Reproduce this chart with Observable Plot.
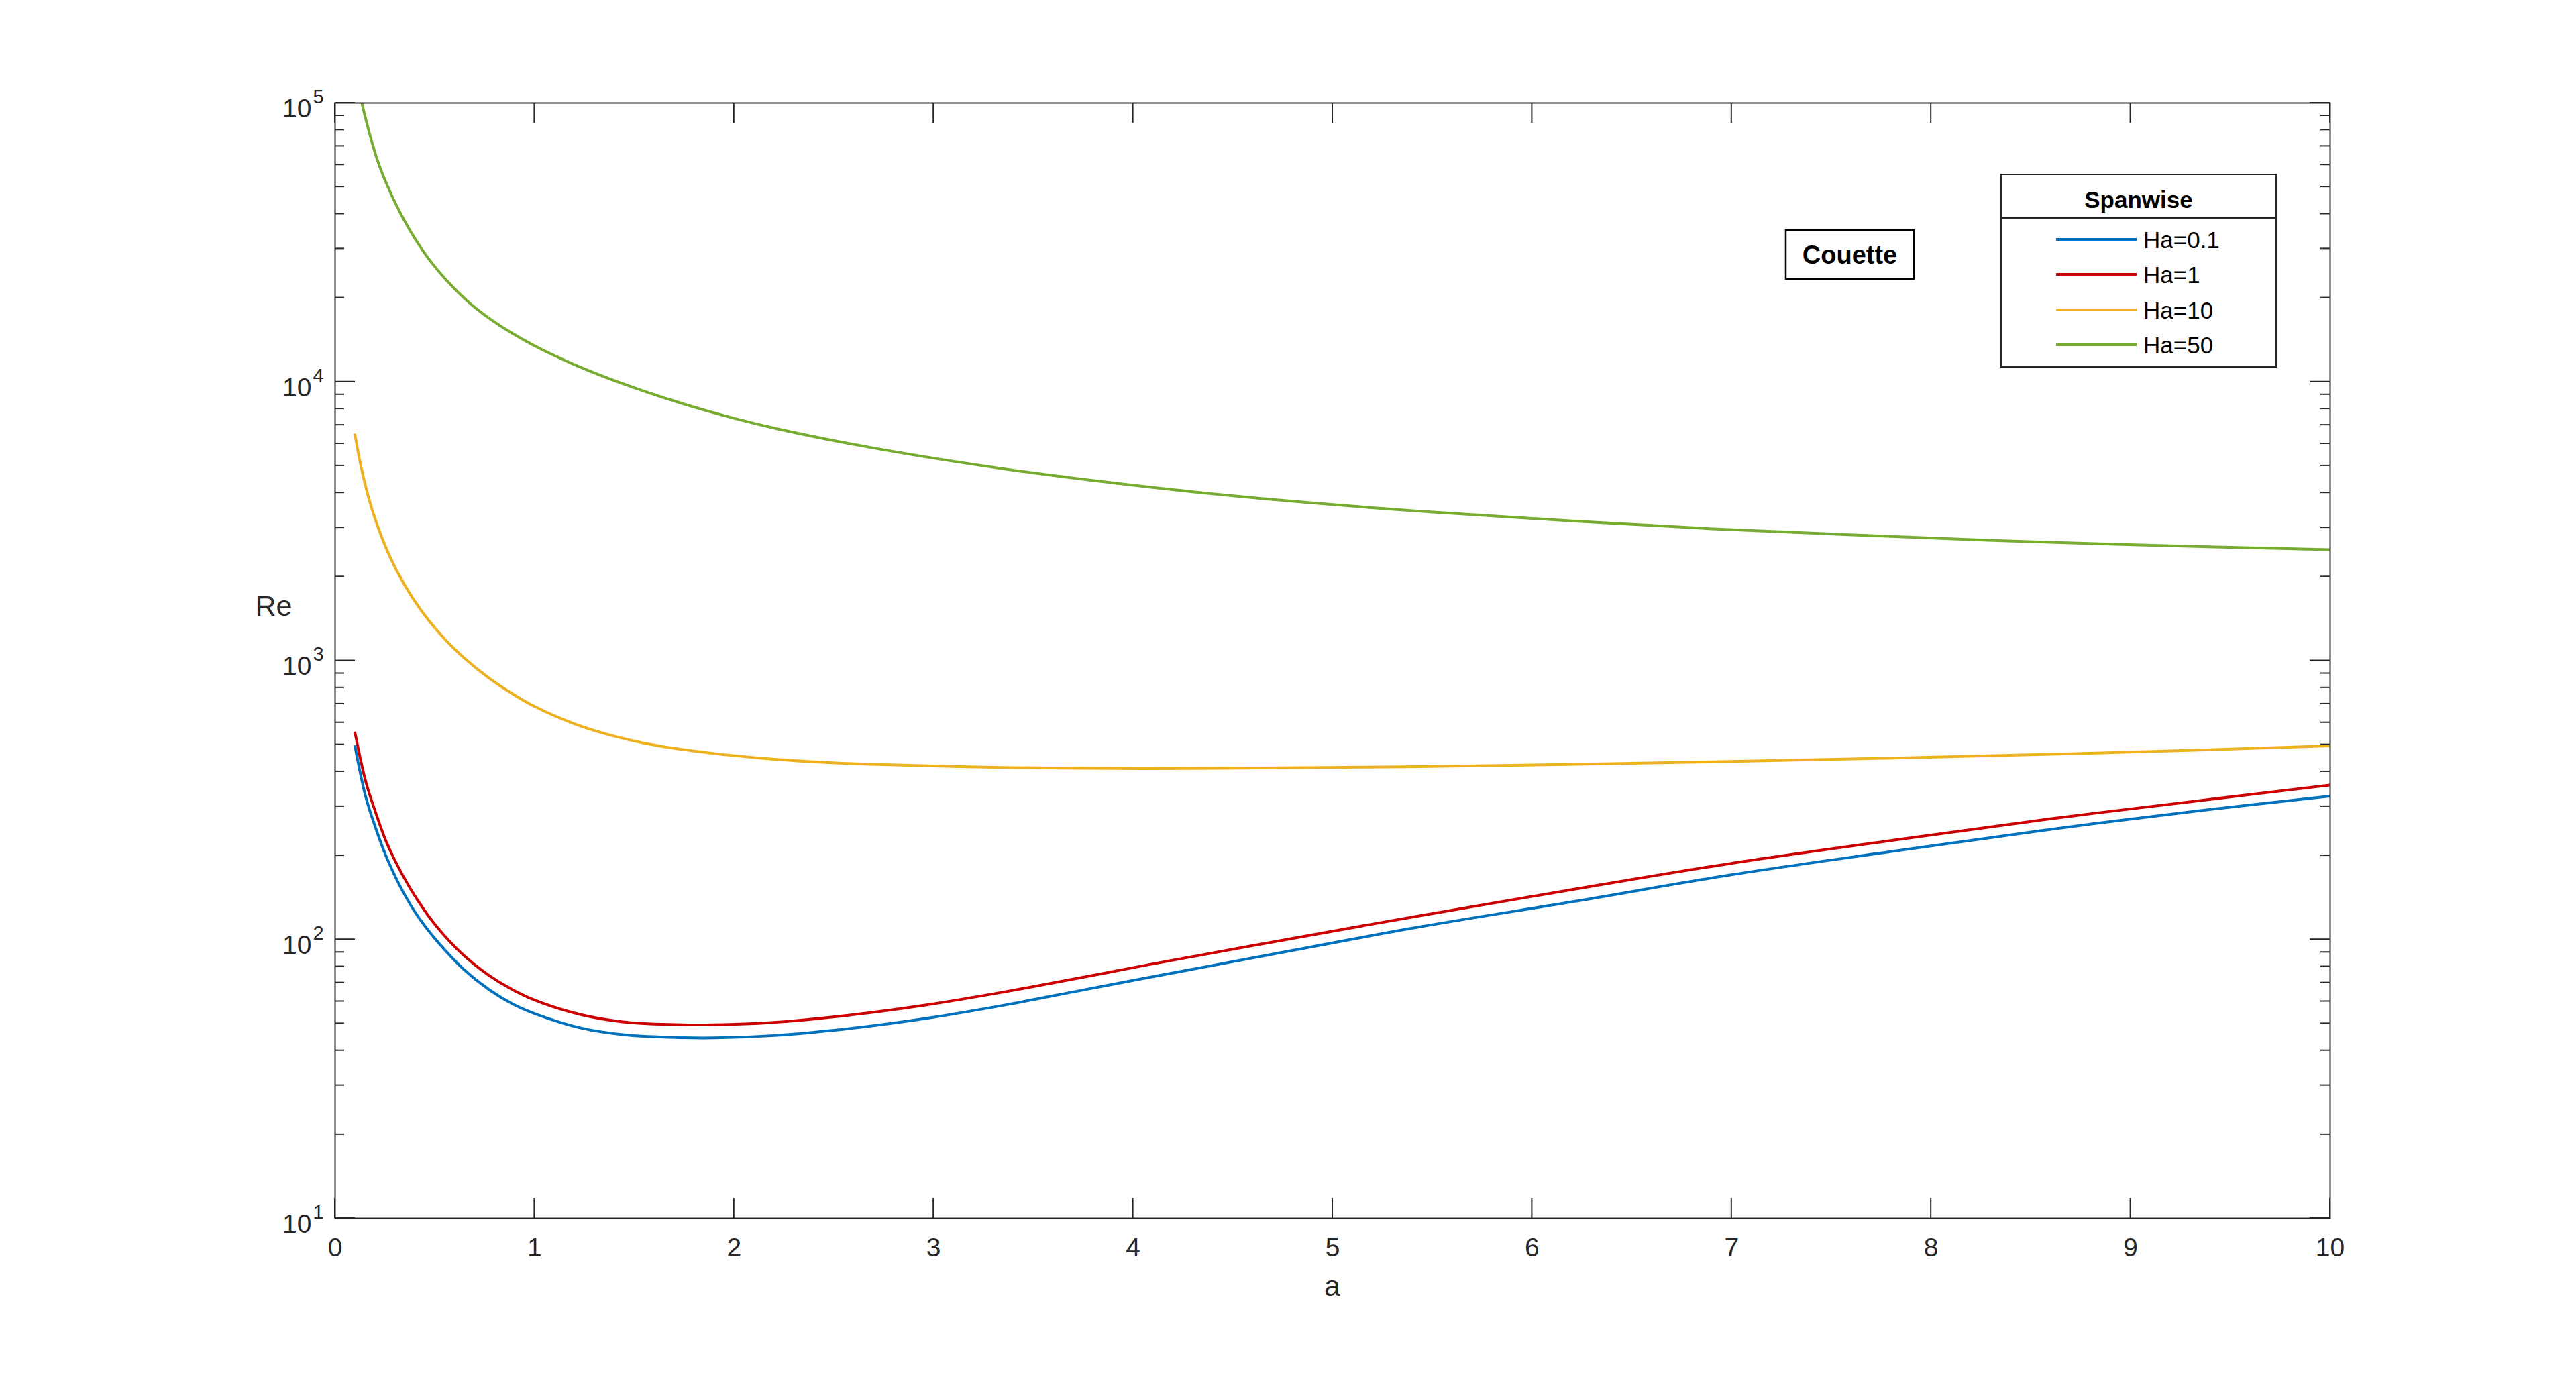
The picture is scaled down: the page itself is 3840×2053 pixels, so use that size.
<!DOCTYPE html>
<html>
<head>
<meta charset="utf-8">
<script src="https://cdn.jsdelivr.net/npm/d3@7"></script>
<script src="https://cdn.jsdelivr.net/npm/@observablehq/plot@0.6"></script>
<style>
  html, body { margin: 0; padding: 0; background: #ffffff; }
  #chart { width: 3840px; height: 2053px; overflow: hidden; }
</style>
</head>
<body>
<div id="chart"></div>
<script>
// ---------------- data ----------------
const seriesNames = ["Ha=0.1", "Ha=1", "Ha=10", "Ha=50"];
const seriesColors = ["#0072BD", "#CC0000", "#EDB120", "#77AC30"];

const aHa01 = [0.1, 0.154, 0.206, 0.257, 0.335, 0.412, 0.515, 0.643, 0.772, 0.901, 1.029, 1.235, 1.441, 1.673, 1.904, 2.187, 2.573, 2.959, 3.345, 3.731, 4.035, 4.652, 5.434, 6.216, 6.998, 7.780, 8.562, 9.344, 10];
const reHa01 = [492, 324, 248, 198, 151, 122, 98, 78.4, 66.1, 58.2, 53.3, 48.1, 45.6, 44.6, 44.4, 45.2, 47.9, 52.1, 58.0, 65.5, 72.1, 87.3, 110.9, 137.1, 170.6, 205.8, 246.4, 289.6, 326.9];

const aHa1 = [0.1, 0.154, 0.206, 0.257, 0.335, 0.412, 0.515, 0.643, 0.772, 0.901, 1.029, 1.235, 1.441, 1.673, 1.904, 2.187, 2.573, 2.959, 3.345, 3.731, 4.035, 4.652, 5.434, 6.216, 6.998, 7.780, 8.562, 9.344, 10];
const reHa1 = [551, 368, 282, 224, 172, 139, 110, 88, 74.3, 65.4, 59.5, 53.7, 50.7, 49.6, 49.5, 50.4, 53.5, 58.2, 64.7, 72.8, 80.2, 96.6, 121.6, 151.7, 187.6, 225.5, 268.9, 314.8, 358];

const aHa10 = [0.1, 0.128, 0.171, 0.214, 0.257, 0.308, 0.385, 0.471, 0.557, 0.642, 0.771, 0.899, 1.0, 1.199, 1.413, 1.627, 1.884, 2.140, 2.397, 2.685, 3.345, 4.035, 4.652, 5.434, 6.216, 6.998, 7.780, 8.562, 9.344, 10];
const reHa10 = [6457, 5047, 3776, 3027, 2523, 2109, 1694, 1390, 1180, 1030, 867, 753, 685, 594, 533, 494, 466, 447, 434, 425, 414, 410, 412, 417, 425, 435, 447, 461, 478, 495];

const aHa50 = [0.134, 0.171, 0.214, 0.257, 0.308, 0.385, 0.471, 0.557, 0.685, 0.813, 1.0, 1.199, 1.455, 1.712, 2.0, 2.226, 2.693, 3.392, 4.091, 4.790, 5.489, 6.188, 6.887, 7.586, 8.285, 8.984, 10];
const reHa50 = [100000, 78500, 61800, 51500, 42900, 34000, 27500, 23200, 18880, 16140, 13460, 11530, 9770, 8480, 7400, 6760, 5800, 4830, 4185, 3735, 3415, 3174, 2975, 2830, 2704, 2606, 2500];

const xTicks = [0, 1, 2, 3, 4, 5, 6, 7, 8, 9, 10];
const yMajor = [10, 100, 1000, 10000, 100000];
const yMinor = [20, 30, 40, 50, 60, 70, 80, 90,
                200, 300, 400, 500, 600, 700, 800, 900,
                2000, 3000, 4000, 5000, 6000, 7000, 8000, 9000,
                20000, 30000, 40000, 50000, 60000, 70000, 80000, 90000];

const xLabel = "a";
const yLabel = "Re";
const legendTitle = "Spanwise";
const boxText = "Couette";

// ---------------- build table ----------------
const seriesA = [aHa01, aHa1, aHa10, aHa50];
const seriesRe = [reHa01, reHa1, reHa10, reHa50];
const rows = seriesNames.flatMap((name, k) =>
  seriesA[k].map((a, i) => ({ a, re: seriesRe[k][i], name })));

// ---------------- layout ----------------
const W = 3840, H = 2053;
const mL = 499, mR = 367, mT = 153, mB = 237;
const FONT = "'Liberation Sans', Arial, Helvetica, sans-serif";
const INK = "#262626";

const plot = Plot.plot({
  width: W,
  height: H,
  marginLeft: mL,
  marginRight: mR,
  marginTop: mT,
  marginBottom: mB,
  style: { fontFamily: FONT, background: "#ffffff", overflow: "visible" },
  x: { domain: [0, 10], label: null },
  y: { type: "log", domain: [10, 100000], axis: null, label: null },
  color: { domain: seriesNames, range: seriesColors },
  marks: [
    Plot.line(rows, { x: "a", y: "re", z: "name", stroke: "name", strokeWidth: 4, curve: "catmull-rom", clip: true }),
    Plot.frame({ stroke: INK, strokeWidth: 2 }),
    Plot.axisX({ ticks: xTicks, tickSize: 0, tickPadding: 29, fontSize: 39, fill: INK, tickFormat: d => String(d), label: null }),
    Plot.text(yMajor, { y: d => d, text: () => "10", frameAnchor: "left", textAnchor: "end", dx: -35, dy: 9, fontSize: 39, fill: INK }),
    Plot.text(yMajor, { y: d => d, text: d => String(Math.round(Math.log10(d))), frameAnchor: "left", textAnchor: "start", dx: -33, dy: -9, fontSize: 29, fill: INK })
  ]
});

document.getElementById("chart").appendChild(plot);

// ---------------- inward ticks (through the plot's scales) ----------------
const svg = d3.select(plot);
const xs = plot.scale("x"), ys = plot.scale("y");
const x0 = mL, x1 = W - mR, y0 = mT, y1 = H - mB;
const tg = svg.append("g").attr("stroke", INK).attr("stroke-width", 2).attr("fill", "none");
for (const t of xTicks) {
  const px = xs.apply(t);
  tg.append("line").attr("x1", px).attr("x2", px).attr("y1", y1).attr("y2", y1 - 30);
  tg.append("line").attr("x1", px).attr("x2", px).attr("y1", y0).attr("y2", y0 + 30);
}
for (const t of yMajor) {
  const py = ys.apply(t);
  tg.append("line").attr("x1", x0).attr("x2", x0 + 30).attr("y1", py).attr("y2", py);
  tg.append("line").attr("x1", x1).attr("x2", x1 - 30).attr("y1", py).attr("y2", py);
}
for (const t of yMinor) {
  const py = ys.apply(t);
  tg.append("line").attr("x1", x0).attr("x2", x0 + 14).attr("y1", py).attr("y2", py);
  tg.append("line").attr("x1", x1).attr("x2", x1 - 14).attr("y1", py).attr("y2", py);
}

// ---------------- axis labels ----------------
svg.append("text").attr("x", 408).attr("y", 918).attr("text-anchor", "middle")
  .attr("font-family", FONT).attr("font-size", 43).attr("fill", INK).text(yLabel);
svg.append("text").attr("x", (x0 + x1) / 2).attr("y", 1932).attr("text-anchor", "middle")
  .attr("font-family", FONT).attr("font-size", 43).attr("fill", INK).text(xLabel);

// ---------------- Couette box ----------------
svg.append("rect").attr("x", 2662).attr("y", 343).attr("width", 191).attr("height", 73)
  .attr("fill", "#ffffff").attr("stroke", "#000000").attr("stroke-width", 2.5);
svg.append("text").attr("x", 2757.5).attr("y", 393).attr("text-anchor", "middle")
  .attr("font-family", FONT).attr("font-weight", "bold").attr("font-size", 38).attr("fill", "#000000").text(boxText);

// ---------------- legend ----------------
const lg = svg.append("g");
lg.append("rect").attr("x", 2983).attr("y", 260).attr("width", 410).attr("height", 287)
  .attr("fill", "#ffffff").attr("stroke", INK).attr("stroke-width", 2);
lg.append("line").attr("x1", 2983).attr("x2", 3393).attr("y1", 325).attr("y2", 325)
  .attr("stroke", INK).attr("stroke-width", 2);
lg.append("text").attr("x", 3188).attr("y", 310).attr("text-anchor", "middle")
  .attr("font-family", FONT).attr("font-weight", "bold").attr("font-size", 35).attr("fill", "#000000").text(legendTitle);
const entryY = [357, 409, 462, 514];
seriesNames.forEach((name, k) => {
  lg.append("line").attr("x1", 3065).attr("x2", 3185).attr("y1", entryY[k]).attr("y2", entryY[k])
    .attr("stroke", seriesColors[k]).attr("stroke-width", 4);
  lg.append("text").attr("x", 3195).attr("y", entryY[k] + 12.5).attr("text-anchor", "start")
    .attr("font-family", FONT).attr("font-size", 35).attr("fill", "#000000").text(name);
});
</script>
</body>
</html>
